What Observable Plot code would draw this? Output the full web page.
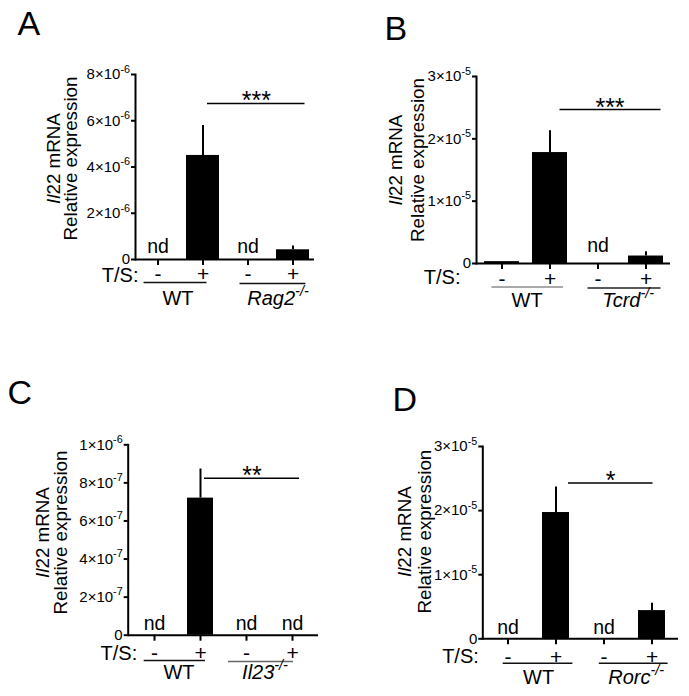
<!DOCTYPE html>
<html><head><meta charset="utf-8">
<script src="https://cdn.jsdelivr.net/npm/d3@7"></script>
<script src="https://cdn.jsdelivr.net/npm/@observablehq/plot@0.6"></script>
<style>
body{margin:0;background:#fff;}
#wrap{position:relative;width:689px;height:696px;overflow:hidden;background:#fff;}
#wrap svg{position:absolute;}
#wrap g[aria-label="y-axis tick label"]{font-size:15px !important;}
#wrap g[aria-label="x-axis tick label"]{font-size:21px !important;}
</style></head><body><div id="wrap"></div>
<script>
// ---------- data ----------
const categories = ["WT-", "WT+", "KO-", "KO+"];
const treatmentSigns = ["-", "+", "-", "+"];
const panelLetters = ["A", "B", "C", "D"];
const wtLabel = "WT";
const knockoutLabels = ["i:Rag2|is:-/-", "i:Tcrd|is:-/-", "i:Il23|is:-/-", "i:Rorc|is:-/-"];
const yTitle1 = "i:Il|22 mRNA";
const yTitle2 = "Relative expression";
const tsLabel = "T/S:";
const ndLabel = "nd";

const meanA = [null, 4.5e-6, null, 0.42e-6];
const errTopA = [null, 5.8e-6, null, 0.58e-6];
const ndA = [true, false, true, false];
const meanB = [0.03e-5, 1.78e-5, null, 0.12e-5];
const errTopB = [null, 2.13e-5, null, 0.19e-5];
const ndB = [false, false, true, false];
const meanC = [null, 7.2e-7, null, null];
const errTopC = [null, 8.73e-7, null, null];
const ndC = [true, false, true, true];
const meanD = [null, 1.97e-5, null, 0.44e-5];
const errTopD = [null, 2.37e-5, null, 0.555e-5];
const ndD = [true, false, true, false];

const yTicksA = [0, 2e-6, 4e-6, 6e-6, 8e-6];
const yTickLabelsA = ["0", "2×10|s:-6", "4×10|s:-6", "6×10|s:-6", "8×10|s:-6"];
const yTicksB = [0, 1e-5, 2e-5, 3e-5];
const yTickLabelsB = ["0", "1×10|s:-5", "2×10|s:-5", "3×10|s:-5"];
const yTicksC = [0, 2e-7, 4e-7, 6e-7, 8e-7, 1e-6];
const yTickLabelsC = ["0", "2×10|s:-7", "4×10|s:-7", "6×10|s:-7", "8×10|s:-7", "1×10|s:-6"];
const yTicksD = [0, 1e-5, 2e-5, 3e-5];
const yTickLabelsD = ["0", "1×10|s:-5", "2×10|s:-5", "3×10|s:-5"];

const sigStars = ["***", "***", "**", "*"];
const sigLevel = [6.75e-6, 2.47e-5, 8.24e-7, 2.43e-5];

// ---------- layout / style (pixels) ----------
const layouts = [
  {left:0, top:0, w:345, h:340, ml:135, mr:31, mt:74, mb:81, pi:0.267, po:0.122, cap:14,
   sigIn:[21,4.5], starDx:8.3, grpIn:[[2.5,12.5],[8.5,3.5]], grpDy:[23,24], grpCol:["#111","#111"],
   grpLabDx:[-2.5,7.5], grpLabDy:39, tsDx:3, tsDy:16, tickPad:0.3, ndDy:-7,
   titleX:[53,70], titleDy:-8.5, letter:[17,34]},
  {left:345, top:0, w:344, h:340, ml:131, mr:19, mt:76, mb:77, pi:0.275, po:0.146, cap:18,
   sigIn:[27.5,2.5], starDx:12, grpIn:[[7.5,4],[7.5,2.5]], grpDy:[23.4,24.4], grpCol:["#8c8c8c","#222"],
   grpLabDx:[1,6], grpLabDy:37, tsDx:-16, tsDy:14, tickPad:1.3, ndDy:-11.5,
   titleX:[50,72], titleDy:-10, letter:[39,39]},
  {left:0, top:340, w:345, h:356, ml:127.7, mr:27, mt:104.3, mb:61.3, pi:0.426, po:0.238, cap:13.3,
   sigIn:[17,6], starDx:5.5, grpIn:[[2.7,8],[-5,12]], grpDy:[25.3,26.3], grpCol:["#111","#666"],
   grpLabDx:[1,-5], grpLabDy:37.3, tsDx:9, tsDy:18, tickPad:4.3, ndDy:-5,
   titleX:[42,60], titleDy:-7.5, letter:[7,63]},
  {left:345, top:340, w:344, h:356, ml:137.3, mr:11, mt:106, mb:57.7, pi:0.43, po:0.245, cap:13.3,
   sigIn:[26,12.5], starDx:6.7, grpIn:[[8.7,-3.4],[8.8,-2.6]], grpDy:[24.4,24.4], grpCol:["#111","#111"],
   grpLabDx:[6.5,8], grpLabDy:38.7, tsDx:-4, tsDy:18, tickPad:4.7, ndDy:-5,
   titleX:[59,79], titleDy:-11, letter:[47,70]}
];

const panels = [
  {mean: meanA, top: errTopA, nd: ndA, ticks: yTicksA, labels: yTickLabelsA},
  {mean: meanB, top: errTopB, nd: ndB, ticks: yTicksB, labels: yTickLabelsB},
  {mean: meanC, top: errTopC, nd: ndC, ticks: yTicksC, labels: yTickLabelsC},
  {mean: meanD, top: errTopD, nd: ndD, ticks: yTicksD, labels: yTickLabelsD}
];

const FONT = "'Liberation Sans', Arial, Helvetica, sans-serif";
const SVGNS = "http://www.w3.org/2000/svg";

// rich text: segments separated by "|", prefixes i: (italic), s: (superscript), is: (both)
function richify(svg) {
  svg.querySelectorAll("text").forEach(t => {
    const leaves = t.querySelectorAll("tspan").length ? [...t.querySelectorAll("tspan")] : [t];
    leaves.forEach(el => {
      const s = el.textContent;
      if (!s.includes("|")) return;
      el.textContent = "";
      let raised = false;
      s.split("|").forEach(seg => {
        let italic = false, sup = false, txt = seg;
        const m = seg.match(/^(is|i|s):(.*)$/);
        if (m) { italic = m[1].includes("i"); sup = m[1].includes("s"); txt = m[2]; }
        const ts = document.createElementNS(SVGNS, "tspan");
        ts.textContent = txt;
        if (italic) ts.setAttribute("font-style", "italic");
        if (sup) {
          ts.setAttribute("font-size", "0.72em");
          ts.setAttribute("dy", "-0.6em");
          raised = true;
        } else if (raised) {
          ts.setAttribute("dy", "0.43em");
          raised = false;
        }
        el.appendChild(ts);
      });
    });
  });
}

const wrap = document.getElementById("wrap");

panels.forEach((p, k) => {
  const L = layouts[k];
  const rows = categories.map((c, i) => ({cat: c, mean: p.mean[i], top: p.top[i], nd: p.nd[i]}));
  const step = (L.w - L.ml - L.mr) / (4 - L.pi + 2 * L.po);
  const bw = step * (1 - L.pi);
  const capIn = (bw - L.cap) / 2;
  const groups = [
    {a: categories[0], b: categories[1], label: wtLabel},
    {a: categories[2], b: categories[3], label: knockoutLabels[k]}
  ];
  const zero = () => 0;
  const marks = [
    Plot.barY(rows.filter(d => d.mean != null), {x: "cat", y: "mean", fill: "black"}),
    Plot.ruleX(rows.filter(d => d.top != null), {x: "cat", y1: "mean", y2: "top", stroke: "black", strokeWidth: 2}),
    Plot.ruleY(rows.filter(d => d.top != null), {x: "cat", y: "top", stroke: "black", strokeWidth: 2, insetLeft: capIn, insetRight: capIn}),
    Plot.ruleY([0], {stroke: "black", strokeWidth: 2}),
    Plot.frame({anchor: "left", stroke: "black", strokeWidth: 2}),
    Plot.axisY({ticks: p.ticks, tickFormat: d => p.labels[p.ticks.indexOf(d)], tickSize: 4, tickPadding: 1.5,
      fontSize: 15, strokeWidth: 2, label: null}),
    Plot.axisX({tickSize: 6, tickPadding: L.tickPad, tickFormat: d => treatmentSigns[categories.indexOf(d)],
      fontSize: 21, strokeWidth: 2, label: null}),
    Plot.text(rows.filter(d => d.nd), {x: "cat", y: zero, text: () => ndLabel, lineAnchor: "bottom", dy: L.ndDy, fontSize: 19.5}),
    Plot.ruleY([{}], {x1: () => categories[1], x2: () => categories[3], y: () => sigLevel[k], stroke: "black", strokeWidth: 1.5,
      insetLeft: L.sigIn[0], insetRight: L.sigIn[1]}),
    Plot.text([{}], {x: () => categories[2], y: () => sigLevel[k], text: () => sigStars[k], dx: L.starDx, dy: 6,
      lineAnchor: "bottom", fontSize: 25}),
    Plot.text([tsLabel], {frameAnchor: "bottom-left", textAnchor: "end", lineAnchor: "middle", dx: L.tsDx, dy: L.tsDy, fontSize: 20}),
    Plot.text([yTitle1], {frameAnchor: "left", rotate: -90, textAnchor: "middle", lineAnchor: "middle",
      dx: L.titleX[0] - L.ml, dy: L.titleDy, fontSize: 18.8}),
    Plot.text([yTitle2], {frameAnchor: "left", rotate: -90, textAnchor: "middle", lineAnchor: "middle",
      dx: L.titleX[1] - L.ml, dy: L.titleDy, fontSize: 18.8}),
    Plot.text([panelLetters[k]], {frameAnchor: "top-left", textAnchor: "start", lineAnchor: "bottom",
      dx: L.letter[0] - L.ml, dy: L.letter[1] - L.mt, fontSize: 34})
  ];
  groups.forEach((g, j) => {
    marks.push(Plot.ruleY([g], {x1: "a", x2: "b", y: zero, dy: L.grpDy[j], stroke: L.grpCol[j], strokeWidth: 1.5,
      insetLeft: L.grpIn[j][0], insetRight: L.grpIn[j][1]}));
    marks.push(Plot.text([g], {x: "a", y: zero, text: "label", dx: step / 2 + L.grpLabDx[j], dy: L.grpLabDy,
      lineAnchor: "middle", fontSize: 20}));
  });
  const svg = Plot.plot({
    width: L.w, height: L.h,
    marginLeft: L.ml, marginRight: L.mr, marginTop: L.mt, marginBottom: L.mb,
    style: {fontFamily: FONT, color: "black", background: "transparent", overflow: "visible"},
    x: {type: "band", domain: categories, paddingInner: L.pi, paddingOuter: L.po, align: 0.5},
    y: {domain: [0, p.ticks[p.ticks.length - 1]]},
    marks
  });
  richify(svg);
  svg.style.left = L.left + "px";
  svg.style.top = L.top + "px";
  wrap.appendChild(svg);
});
</script>
</body></html>
